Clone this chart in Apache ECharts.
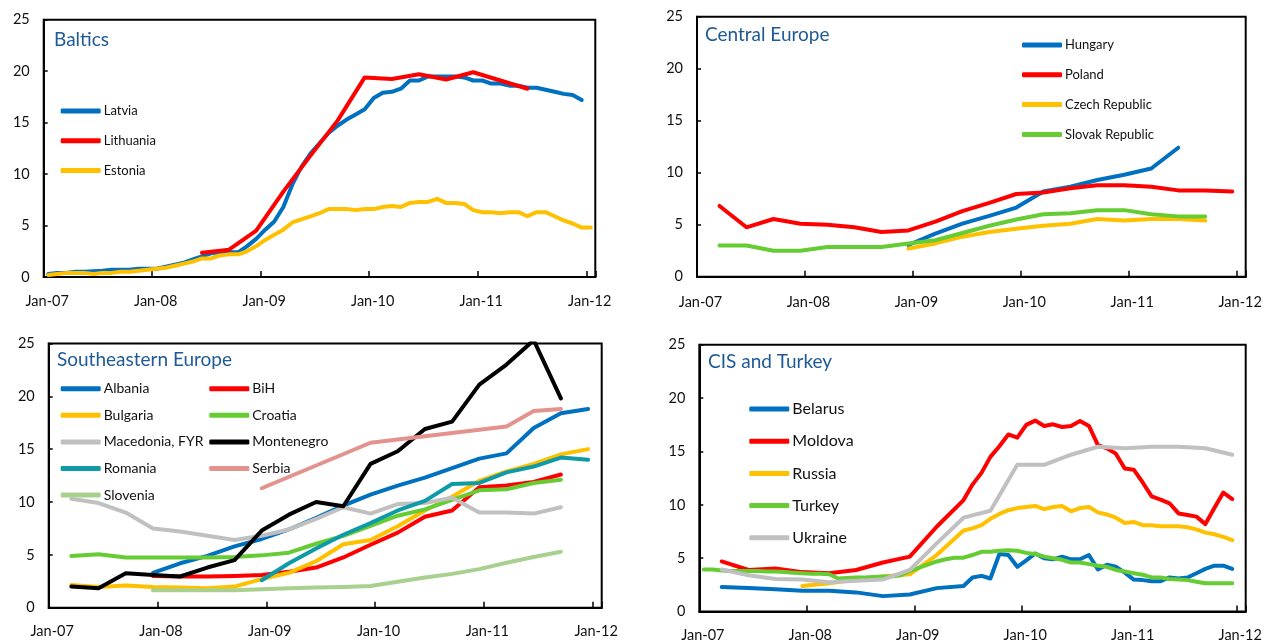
<!DOCTYPE html>
<html>
<head>
<meta charset="utf-8">
<script src="https://cdn.jsdelivr.net/npm/echarts@6/dist/echarts.min.js"></script>
<style>
  html, body { margin: 0; padding: 0; background: #fff; }
  #main { width: 1268px; height: 643px; }
</style>
</head>
<body>
<div id="main"></div>
<script>
// tick labels, one per January
const yearLabels = ['Jan-07', 'Jan-08', 'Jan-09', 'Jan-10', 'Jan-11', 'Jan-12']

// Baltics (monthly / quarterly)
const latvia = [0.3, 0.4, 0.4, 0.5, 0.5, 0.55, 0.6, 0.7, 0.7, 0.7, 0.8, 0.8,
  0.8, 1.0, 1.2, 1.4, 1.7, 2.0, 2.3, 2.4, 2.4, 2.4, 3.0, 3.7,
  4.6, 5.4, 6.8, 9.0, 10.7, 12.0, 13.0, 14.0, 14.7, 15.3, 15.8, 16.3,
  17.4, 17.9, 18.0, 18.3, 19.1, 19.1, 19.5, 19.5, 19.5, 19.5, 19.4, 19.1,
  19.1, 18.8, 18.8, 18.6, 18.6, 18.4, 18.4, 18.2, 18.0, 17.8, 17.7, 17.2]
const lithuania = [2.35, 2.65, 4.5, 8.3, 11.8, 15.2, 19.4, 19.25, 19.7, 19.2, 19.9, 19.1, 18.3]
const estonia = [0.2, 0.3, 0.4, 0.4, 0.4, 0.3, 0.4, 0.4, 0.5, 0.5, 0.6, 0.7,
  0.8, 0.9, 1.1, 1.3, 1.5, 1.8, 1.8, 2.1, 2.2, 2.2, 2.5, 3.0,
  3.6, 4.1, 4.6, 5.3, 5.6, 5.9, 6.2, 6.6, 6.6, 6.6, 6.5, 6.6,
  6.6, 6.8, 6.9, 6.8, 7.2, 7.3, 7.3, 7.6, 7.2, 7.2, 7.1, 6.5,
  6.3, 6.3, 6.2, 6.3, 6.3, 5.9, 6.3, 6.3, 5.9, 5.5, 5.2, 4.8, 4.8]

// Central Europe (quarterly)
const hungary = [3.05, 4.15, 5.1, 5.85, 6.65, 8.2, 8.65, 9.3, 9.8, 10.4, 12.4]
const poland = [6.8, 4.75, 5.55, 5.1, 5.0, 4.75, 4.3, 4.45, 5.3, 6.3, 7.1, 7.95, 8.1, 8.5, 8.8, 8.8, 8.65, 8.3, 8.3, 8.2]
const czech = [2.7, 3.2, 3.85, 4.3, 4.6, 4.9, 5.1, 5.55, 5.4, 5.55, 5.55, 5.4]
const slovak = [3.0, 3.0, 2.5, 2.5, 2.85, 2.85, 2.85, 3.2, 3.5, 4.2, 4.9, 5.5, 6.0, 6.1, 6.4, 6.4, 6.0, 5.8, 5.8]

// Southeastern Europe (quarterly)
const albania = [3.3, 4.2, 4.9, 5.8, 6.5, 7.4, 8.5, 9.65, 10.7, 11.55, 12.3, 13.2, 14.1, 14.6, 17.0, 18.4, 18.8]
const bih = [3.0, 2.95, 2.95, 3.0, 3.1, 3.4, 3.8, 4.75, 5.95, 7.1, 8.6, 9.2, 11.4, 11.55, 11.9, 12.6]
const bulgaria = [2.15, 1.95, 2.1, 1.95, 1.9, 1.85, 2.0, 2.7, 3.3, 4.4, 6.0, 6.4, 7.7, 9.2, 10.5, 12.0, 12.9, 13.6, 14.5, 15.0]
const croatia = [4.9, 5.05, 4.75, 4.75, 4.75, 4.75, 4.8, 4.95, 5.2, 6.05, 6.8, 7.75, 8.7, 9.3, 10.2, 11.1, 11.2, 11.8, 12.1]
const macedonia = [10.3, 9.9, 9.0, 7.5, 7.2, 6.8, 6.4, 6.8, 7.4, 8.4, 9.5, 8.9, 9.8, 9.9, 10.4, 9.0, 9.0, 8.9, 9.5]
const montenegro = [2.0, 1.85, 3.25, 3.1, 2.95, 3.8, 4.5, 7.3, 8.8, 10.0, 9.6, 13.6, 14.8, 16.9, 17.6, 21.1, 23.0, 25.3, 19.8]
const romania = [2.6, 4.2, 5.6, 6.9, 8.0, 9.2, 10.1, 11.7, 11.8, 12.8, 13.35, 14.2, 14.0]
const serbia = [11.3, null, null, null, 15.6, null, null, null, null, 17.15, 18.6, 18.8]
const slovenia = [1.65, 1.65, 1.65, 1.65, 1.75, 1.85, 1.9, 1.95, 2.05, 2.45, 2.85, 3.2, 3.65, 4.25, 4.8, 5.3]

// CIS and Turkey (quarterly until mid-2009, monthly after)
const belarusQ = [2.3, 2.2, 2.1, 1.95, 1.95, 1.8, 1.45, 1.6, 2.2, 2.4]
const belarusM = [3.2, 3.35, 3.1, 5.4, 5.3, 4.2, 4.8, 5.45, 5.0, 4.9, 5.15, 4.9, 4.9, 5.3, 3.95,
  4.4, 4.2, 3.65, 3.0, 2.95, 2.85, 2.85, 3.2, 3.1, 3.2, 3.6, 4.0, 4.3, 4.3, 4.0]
const moldovaQ = [4.7, 3.9, 4.05, 3.7, 3.6, 3.9, 4.6, 5.15, 7.95, 10.45]
const moldovaM = [11.9, 13.0, 14.5, 15.5, 16.6, 16.3, 17.5, 17.9, 17.4, 17.55, 17.3, 17.4, 17.85, 17.4, 15.6,
  15.3, 14.8, 13.4, 13.3, 12.1, 10.8, 10.5, 10.15, 9.2, 9.05, 8.9, 8.2, 9.7, 11.15, 10.55]
const russiaQ = [2.4, 2.65, 3.0, 3.3, 3.5, 5.3, 7.6]
const russiaM = [7.8, 8.1, 8.7, 9.15, 9.5, 9.7, 9.8, 9.9, 9.6, 9.8, 9.9, 9.4, 9.7, 9.8, 9.3,
  9.1, 8.8, 8.3, 8.4, 8.1, 8.1, 8.0, 8.0, 8.0, 7.9, 7.7, 7.4, 7.25, 7.0, 6.7]
const turkey = [3.95, 3.95, 3.85, 3.8, 3.8, 3.8, 3.8, 3.75, 3.75, 3.7, 3.65, 3.6,
  3.55, 3.55, 3.5, 3.1, 3.15, 3.2, 3.2, 3.25, 3.3, 3.3, 3.4, 3.8,
  4.1, 4.4, 4.7, 4.9, 5.05, 5.05, 5.3, 5.6, 5.6, 5.7, 5.75, 5.7,
  5.5, 5.4, 5.15, 5.0, 4.85, 4.6, 4.6, 4.45, 4.3, 4.2, 3.9, 3.75,
  3.6, 3.45, 3.2, 3.2, 3.05, 3.0, 2.95, 2.8, 2.65, 2.65, 2.65, 2.65]
const ukraine = [3.95, 3.4, 3.05, 3.0, 2.75, 2.9, 3.0, 3.9, 6.4, 8.8, 9.45, 13.75, 13.75, 14.7, 15.45, 15.3, 15.45, 15.45, 15.3, 14.7]

const BLUE = '#0070C0'
const RED = '#FF0000'
const YELLOW = '#FFC000'
const GREEN = '#66CC33'
const GREY = '#C0C0C0'
const FONT = 'Lato'

// months since Jan-07, points sit in the middle of their month
function monthIndex (s) {
  const [y, m] = s.split('-').map(Number)
  return (y - 2007) * 12 + (m - 1) + 0.5
}
function pts (start, step, values) {
  const m0 = monthIndex(start)
  return values.map((v, i) => [m0 + i * step, v]).filter(p => p[1] !== null)
}

function line (name, idx, color, data) {
  return {
    name: name,
    type: 'line',
    xAxisIndex: idx,
    yAxisIndex: idx,
    data: data,
    symbol: 'none',
    itemStyle: { color: color },
    lineStyle: { color: color, width: 4, cap: 'round', join: 'round' },
    animation: false
  }
}

const chart = echarts.init(document.getElementById('main'))

const grids = [
  { left: 43.7, top: 19.8, width: 551.6, height: 257.2, margin: 17 },
  { left: 697, top: 16.7, width: 548.7, height: 260, margin: 18 },
  { left: 48.7, top: 343.4, width: 553, height: 264.3, margin: 16 },
  { left: 699.3, top: 344.8, width: 546.4, height: 266.8, margin: 16 }
]

const xAxes = grids.map((g, i) => ({
  type: 'value',
  gridIndex: i,
  min: 0,
  max: 61,
  interval: 12,
  axisLine: { lineStyle: { color: '#000', width: 2 } },
  axisTick: { inside: true, length: 6, lineStyle: { color: '#000', width: 1.5 } },
  splitLine: { show: false },
  axisLabel: {
    margin: g.margin,
    color: '#111',
    fontFamily: FONT,
    fontSize: 14.5,
    padding: [0, 0, 0, 7],
    formatter: v => (v % 12 === 0 ? yearLabels[v / 12] : '')
  }
}))

const yAxes = grids.map((g, i) => ({
  type: 'value',
  gridIndex: i,
  min: 0,
  max: 25,
  interval: 5,
  axisLine: { show: true, lineStyle: { color: '#000', width: 2 } },
  axisTick: { show: true, inside: true, length: 4, lineStyle: { color: '#000', width: 1.5 } },
  splitLine: { show: false },
  axisLabel: { margin: 14, color: '#111', fontFamily: FONT, fontSize: 14.5 }
}))

function legendAt (names, left, top, gap, size, lh) {
  return {
    data: names,
    orient: 'vertical',
    left: left,
    top: top,
    padding: 0,
    itemGap: gap,
    itemWidth: 40,
    itemHeight: 5,
    icon: 'roundRect',
    selectedMode: false,
    textStyle: { fontFamily: FONT, fontSize: size, lineHeight: lh, color: '#111', padding: [0, 0, 0, -2] }
  }
}

function titleAt (text, left, top) {
  return {
    text: text,
    left: left,
    top: top,
    padding: 0,
    textStyle: { fontFamily: FONT, fontSize: 19, fontWeight: 'normal', color: '#1F5A96' }
  }
}

const option = {
  backgroundColor: '#fff',
  title: [
    titleAt('Baltics', 54, 30),
    titleAt('Central Europe', 705, 25),
    titleAt('Southeastern Europe', 57, 350),
    titleAt('CIS and Turkey', 708, 352)
  ],
  legend: [
    legendAt(['Latvia', 'Lithuania', 'Estonia'], 60.7, 104, 15.8, 13, 14),
    legendAt(['Hungary', 'Poland', 'Czech Republic', 'Slovak Republic'], 1022, 38, 15.8, 13, 14),
    legendAt(['Albania', 'Bulgaria', 'Macedonia, FYR', 'Romania', 'Slovenia'], 60.7, 381.2, 11.6, 14, 15),
    legendAt(['BiH', 'Croatia', 'Montenegro', 'Serbia'], 209.3, 381.2, 11.6, 14, 15),
    legendAt(['Belarus', 'Moldova', 'Russia', 'Turkey', 'Ukraine'], 749.3, 400.5, 15.2, 16, 17)
  ],
  grid: grids.map(g => ({
    left: g.left, top: g.top, width: g.width, height: g.height,
    show: true, borderColor: '#000', borderWidth: 2, backgroundColor: 'transparent'
  })),
  xAxis: xAxes,
  yAxis: yAxes,
  series: [
    line('Latvia', 0, BLUE, pts('2007-01', 1, latvia)),
    line('Lithuania', 0, RED, pts('2008-06', 3, lithuania)),
    line('Estonia', 0, YELLOW, pts('2007-01', 1, estonia)),

    line('Hungary', 1, BLUE, pts('2008-12', 3, hungary)),
    line('Poland', 1, RED, pts('2007-03', 3, poland)),
    line('Czech Republic', 1, YELLOW, pts('2008-12', 3, czech)),
    line('Slovak Republic', 1, GREEN, pts('2007-03', 3, slovak)),

    line('Albania', 2, BLUE, pts('2007-12', 3, albania)),
    line('BiH', 2, RED, pts('2007-12', 3, bih)),
    line('Bulgaria', 2, YELLOW, pts('2007-03', 3, bulgaria)),
    line('Croatia', 2, GREEN, pts('2007-03', 3, croatia)),
    line('Macedonia, FYR', 2, GREY, pts('2007-03', 3, macedonia)),
    line('Montenegro', 2, '#000000', pts('2007-03', 3, montenegro)),
    line('Romania', 2, '#0E9AA7', pts('2008-12', 3, romania)),
    line('Serbia', 2, '#E4928E', pts('2008-12', 3, serbia)),
    line('Slovenia', 2, '#A9D08E', pts('2007-12', 3, slovenia)),

    line('Belarus', 3, BLUE, pts('2007-03', 3, belarusQ).concat(pts('2009-07', 1, belarusM))),
    line('Moldova', 3, RED, pts('2007-03', 3, moldovaQ).concat(pts('2009-07', 1, moldovaM))),
    line('Russia', 3, YELLOW, pts('2007-12', 3, russiaQ).concat(pts('2009-07', 1, russiaM))),
    line('Turkey', 3, GREEN, pts('2007-01', 1, turkey)),
    line('Ukraine', 3, GREY, pts('2007-03', 3, ukraine))
  ]
}

chart.setOption(option)
</script>
</body>
</html>
